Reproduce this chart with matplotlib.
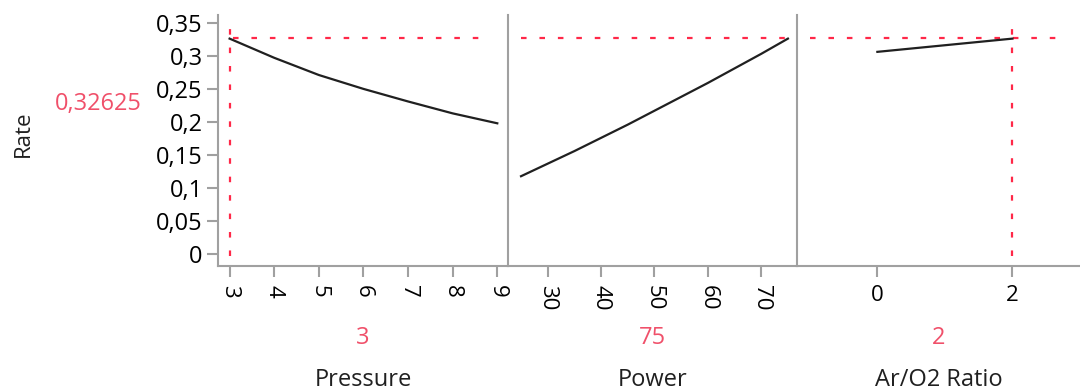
import matplotlib.pyplot as plt
from matplotlib.ticker import FuncFormatter

plt.rcParams['font.family'] = ['Open Sans', 'DejaVu Sans']

# profiler traces
pressure = [3, 4, 5, 6, 7, 8, 9]
rate_pressure = [0.326, 0.297, 0.271, 0.250, 0.231, 0.213, 0.198]
power = [25, 30, 35, 40, 45, 50, 55, 60, 65, 70, 75]
rate_power = [0.118, 0.137, 0.156, 0.176, 0.196, 0.217, 0.238, 0.259, 0.281, 0.303, 0.326]
ratio = [0, 1, 2]
rate_ratio = [0.306, 0.316, 0.326]

current_rate = 0.32625
current_x = [3, 75, 2]
current_labels = ['3', '75', '2']
factor_names = ['Pressure', 'Power', 'Ar/O2 Ratio']
y_ticks = [0, 0.05, 0.1, 0.15, 0.2, 0.25, 0.3, 0.35]
x_ticks = [[3, 4, 5, 6, 7, 8, 9], [30, 40, 50, 60, 70], [0, 2]]

red = '#ff2848'
red_text = '#f0506a'
gray = '#a0a0a0'
dots = (0, (2.5, 5.8))
comma = FuncFormatter(lambda v, p: f"{v:g}".replace('.', ','))

fig = plt.figure(figsize=(10.8, 3.92), dpi=100)
W, H = 1080, 392
top, bottom = 15, 266
edges = [218, 508, 797, 1082]
xlims = [(2.74, 9.24), (22.56, 76.7), (-1.19, 3.03)]
hspan = [(0.05, 0.94), (0.045, 0.97), (0.046, 0.95)]
xs = [pressure, power, ratio]
ys = [rate_pressure, rate_power, rate_ratio]

for i in range(3):
    ax = fig.add_axes([edges[i] / W, 1 - bottom / H, (edges[i + 1] - edges[i]) / W, (bottom - top) / H])
    ax.set_xlim(*xlims[i])
    ax.set_ylim(-0.0177, 0.3617)
    for s in ['top', 'right']:
        ax.spines[s].set_visible(False)
    for s in ['left', 'bottom']:
        ax.spines[s].set_color(gray)
        ax.spines[s].set_linewidth(1.5)
    ax.plot(xs[i], ys[i], color='#202020', lw=1.6, zorder=3)
    ax.axhline(current_rate, xmin=hspan[i][0], xmax=hspan[i][1], color=red, lw=1.6, ls=dots)
    if i != 1:
        ax.plot([current_x[i], current_x[i]], [-0.003, 0.35], color=red, lw=1.6, ls=dots)
    ax.set_xticks(x_ticks[i])
    ax.xaxis.set_major_formatter(comma)
    ax.tick_params(axis='x', length=8, width=1.5, color=gray, labelsize=16, pad=6,
                   labelrotation=270 if i < 2 else 0)
    if i == 0:
        ax.set_yticks(y_ticks)
        ax.yaxis.set_major_formatter(comma)
        ax.tick_params(axis='y', length=8, width=1.5, color=gray, labelsize=17, pad=3)
    else:
        ax.set_yticks([])
    cx = (edges[i] + min(edges[i + 1], W)) / 2 / W
    fig.text(cx, 1 - 338 / H, current_labels[i], color=red_text, fontsize=17, ha='center', va='center')
    fig.text(cx, 1 - 380 / H, factor_names[i], color='#202020', fontsize=17, ha='center', va='center')

fig.text(23 / W, 1 - 134 / H, 'Rate', rotation=90, fontsize=16, ha='center', va='center', color='#202020')
fig.text(98 / W, 1 - 104 / H, '0,32625', fontsize=17, ha='center', va='center', color=red_text)

fig.savefig('out.png', dpi=100)
